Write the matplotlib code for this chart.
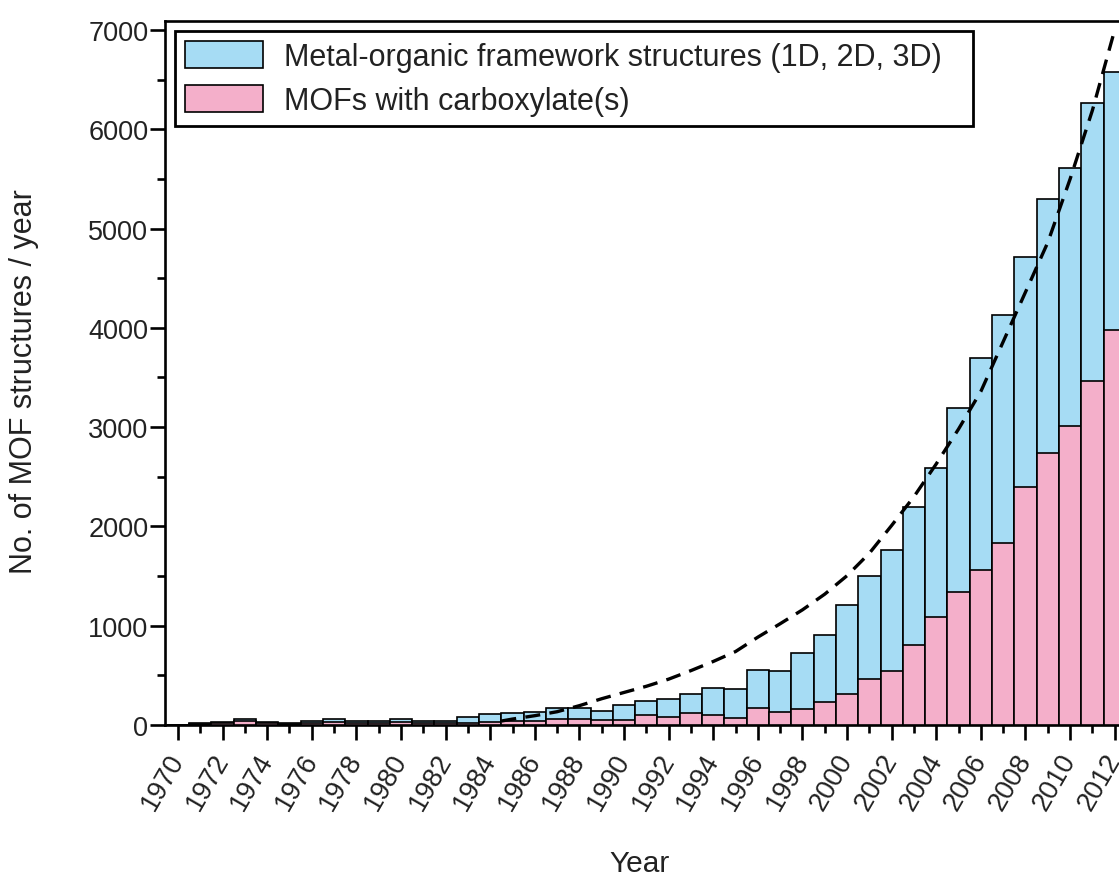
import numpy as np
import matplotlib
matplotlib.use('Agg')
import matplotlib.pyplot as plt
from matplotlib.ticker import MultipleLocator

plt.rcParams['font.family'] = ['Liberation Sans', 'DejaVu Sans']

# Data
years = list(range(1970, 2013))
mof_total = [5, 20, 30, 60, 35, 22, 45, 58, 45, 42,
             60, 45, 45, 78, 112, 120, 128, 170, 170, 145,
             200, 245, 260, 310, 375, 360, 550, 540, 725, 910,
             1212, 1505, 1762, 2192, 2585, 3195, 3695, 4128, 4712, 5297,
             5610, 6260, 6575]
mof_carboxylate = [2, 8, 22, 40, 25, 12, 18, 28, 25, 18,
                   28, 25, 25, 25, 35, 37, 40, 65, 60, 50,
                   55, 100, 80, 118, 100, 75, 170, 135, 165, 230,
                   310, 460, 545, 809, 1084, 1336, 1564, 1831, 2395, 2739,
                   3008, 3466, 3983]

# dashed trend line
trend_years = [1984.5, 1985, 1986, 1987, 1988, 1989, 1990, 1991, 1992, 1993,
               1994, 1995, 1996, 1997, 1998, 1999, 2000, 2001, 2002, 2003,
               2004, 2005, 2006, 2007, 2008, 2009, 2010, 2011, 2012]
trend_values = [40, 60, 94, 134, 195, 265, 328, 390, 462, 548,
                640, 740, 885, 1020, 1160, 1318, 1504, 1730, 2010, 2300,
                2630, 2981, 3360, 3860, 4360, 4860, 5498, 6190, 7000]

blue = '#a6dcf4'
pink = '#f4afca'
txt = '#222222'

fig = plt.figure(figsize=(11.19, 8.78), dpi=100)
ax = fig.add_axes([0.1475, 0.1731, 0.8606, 0.8018])

ax.bar(years, mof_total, width=1.0, color=blue, edgecolor='black', linewidth=1.2,
       label='Metal-organic framework structures (1D, 2D, 3D)', zorder=2)
ax.bar(years, mof_carboxylate, width=1.0, color=pink, edgecolor='black', linewidth=1.2,
       label='MOFs with carboxylate(s)', zorder=3)
ax.plot(trend_years, trend_values, color='black', linestyle=(0, (4.5, 2.8)), linewidth=2.4, zorder=4)

ax.set_xlim(1969.42, 2012.6)
ax.set_ylim(0, 7090)

ax.xaxis.set_major_locator(MultipleLocator(2))
ax.xaxis.set_minor_locator(MultipleLocator(1))
ax.yaxis.set_major_locator(MultipleLocator(1000))
ax.yaxis.set_minor_locator(MultipleLocator(500))

for s in ax.spines.values():
    s.set_linewidth(1.9)
ax.tick_params(axis='both', which='major', direction='out', length=11, width=1.9,
               labelsize=19.5, labelcolor=txt)
ax.tick_params(axis='both', which='minor', direction='out', length=6, width=1.9)
ax.tick_params(axis='y', which='major', pad=1)
ax.tick_params(axis='x', which='major', pad=11)

for lbl in ax.get_xticklabels():
    lbl.set_rotation(60)
    lbl.set_rotation_mode('anchor')
    lbl.set_ha('right')
    lbl.set_va('center')

ax.set_ylabel('No. of MOF structures / year', fontsize=22, color=txt)
ax.yaxis.set_label_coords(-0.131, 0.49)
ax.set_xlabel('Year', fontsize=21.5, color=txt)
ax.xaxis.set_label_coords(0.493, -0.176)

leg = ax.legend(loc='upper left', bbox_to_anchor=(0.0104, 0.5, 0.8287, 0.486), mode='expand',
                borderaxespad=0, fontsize=22, fancybox=False, edgecolor='black',
                framealpha=1, handlelength=2.55, handleheight=1.0, labelspacing=0.42,
                borderpad=0.33, handletextpad=0.7)
leg.get_frame().set_linewidth(2.0)
for t in leg.get_texts():
    t.set_color(txt)

fig.savefig('out.png', dpi=100)
